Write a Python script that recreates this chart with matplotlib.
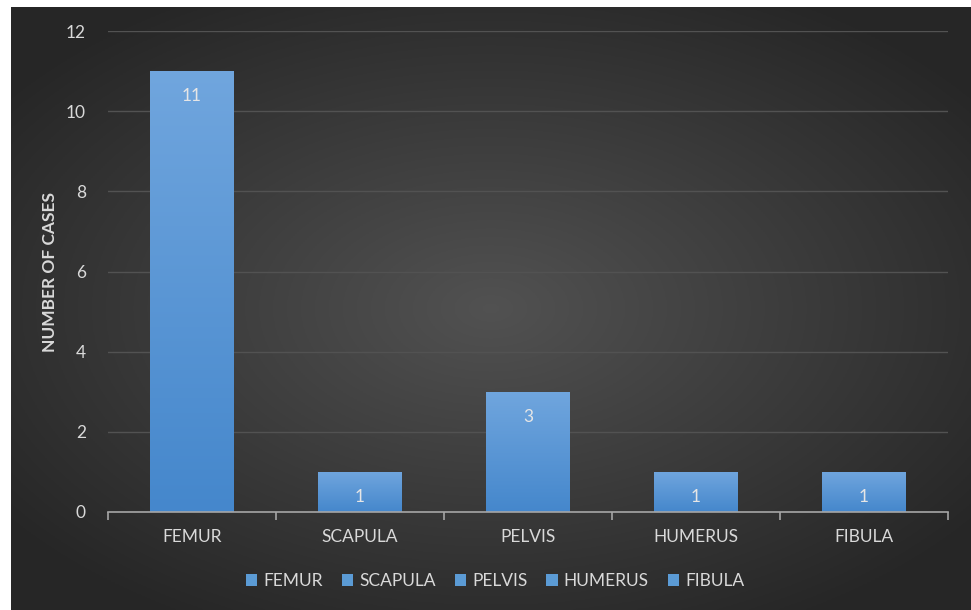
import numpy as np
import matplotlib.pyplot as plt
from matplotlib.patches import Patch

categories = ['FEMUR', 'SCAPULA', 'PELVIS', 'HUMERUS', 'FIBULA']
cases = [11, 1, 3, 1, 1]
y_ticks = [0, 2, 4, 6, 8, 10, 12]

plt.rcParams['font.family'] = ['Lato', 'DejaVu Sans']
txt = '#d9d9d9'
bar_col = '#5b9bd5'
fs = 12.5

fig = plt.figure(figsize=(9.71, 6.10), dpi=100, facecolor='white')

# dark panel with a radial gradient
bg = fig.add_axes([11/971, 0, 959/971, 603/610])
bg.set_axis_off()
yy, xx = np.mgrid[-1:1:300j, -1:1:480j]
r = np.sqrt((xx * 0.95)**2 + (yy * 1.0)**2)
shade = 0.32 - 0.17 * np.clip(r / 1.2, 0, 1)
bg.imshow(np.dstack([shade] * 3), aspect='auto', extent=[0, 1, 0, 1])
bg.set_xlim(0, 1)
bg.set_ylim(0, 1)

ax = fig.add_axes([108/971, 98/610, 840/971, 481/610])
ax.patch.set_alpha(0)
x = np.arange(len(categories))
bars = ax.bar(x, cases, width=0.5, color=bar_col, zorder=3)

# vertical gradient on each bar
grad = np.linspace(0, 1, 256).reshape(-1, 1)
top = np.array([0.44, 0.65, 0.87])
bot = np.array([0.27, 0.53, 0.80])
img = grad[..., None] * top + (1 - grad[..., None]) * bot
for b in bars:
    im = ax.imshow(img, aspect='auto', origin='lower', zorder=4,
                   extent=[b.get_x(), b.get_x() + b.get_width(), 0, b.get_height()])
    im.set_clip_path(b)

for xi, v in zip(x, cases):
    ax.text(xi, v - 0.62, str(v), ha='center', va='center', color='#e6e6e6',
            fontsize=fs, zorder=5)

ax.set_xlim(-0.5, len(categories) - 0.5)
ax.set_ylim(0, 12)
ax.set_yticks(y_ticks)
ax.yaxis.grid(True, color='#525252', linewidth=1, zorder=0)
ax.set_axisbelow(True)
for s in ['top', 'right', 'left']:
    ax.spines[s].set_visible(False)
ax.spines['bottom'].set_color('#a6a6a6')
ax.spines['bottom'].set_linewidth(1.2)
ax.spines['bottom'].set_zorder(6)

ax.set_xticks(x)
ax.set_xticklabels(categories)
ax.set_xticks(np.arange(-0.5, len(categories)), minor=True)
ax.tick_params(axis='x', which='major', length=0, pad=12, labelsize=fs, labelcolor=txt)
ax.tick_params(axis='x', which='minor', length=6, width=1.2, color='#a6a6a6', direction='out')
ax.tick_params(axis='y', length=0, pad=16, labelsize=fs, labelcolor=txt)

ax.set_ylabel('NUMBER OF CASES', fontsize=fs, fontweight='bold', color=txt)
ax.yaxis.set_label_coords(-0.060, 0.5)

handles = [Patch(facecolor=bar_col, edgecolor='none') for _ in categories]
fig.legend(handles, categories, loc='center', bbox_to_anchor=(495/971, 29/610),
           ncol=5, frameon=False, fontsize=fs, labelcolor=txt,
           handlelength=0.65, handleheight=0.65, handletextpad=0.35, columnspacing=1.1)

fig.savefig('out.png', dpi=100, facecolor='white')
